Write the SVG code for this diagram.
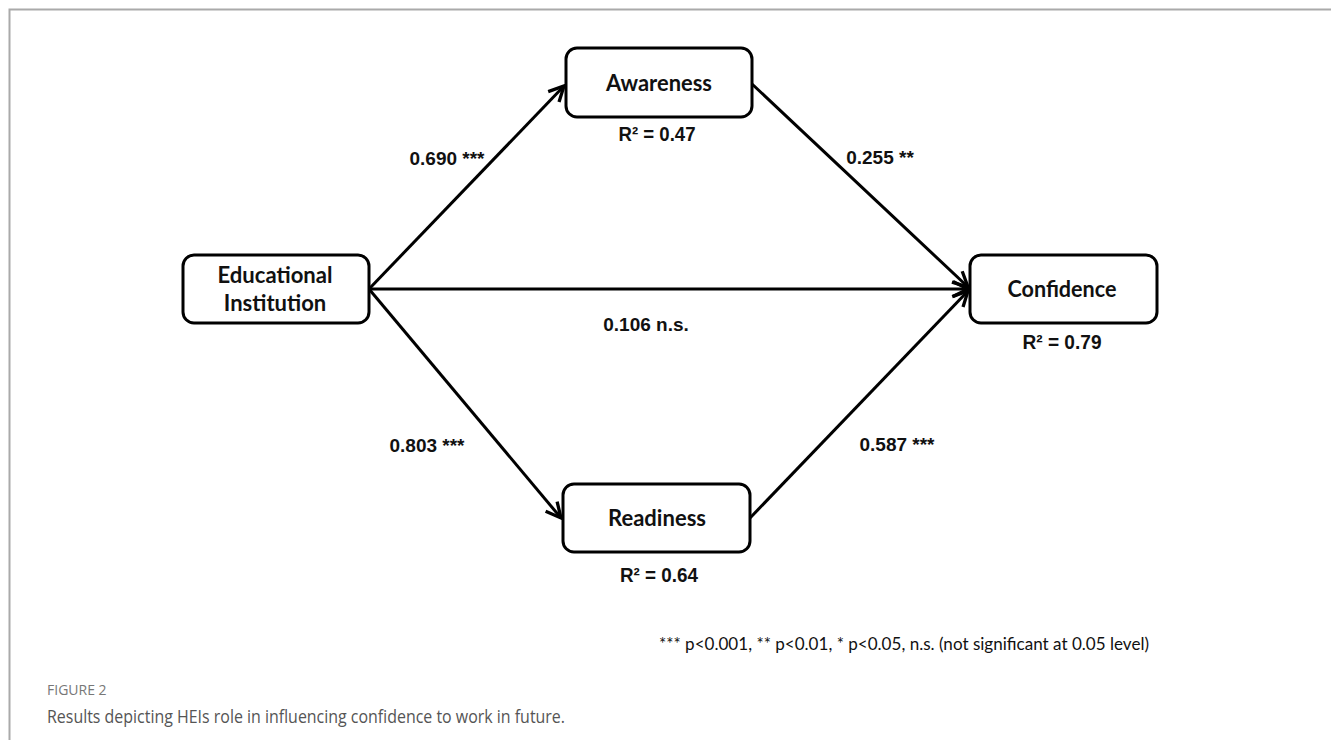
<svg xmlns="http://www.w3.org/2000/svg" width="1331" height="740" viewBox="0 0 1331 740">
<style>
.node{fill:#fff;stroke:#000;stroke-width:3}
.nt{font-family:Lato,"Open Sans",sans-serif;font-weight:bold;font-size:22px;fill:#111;text-anchor:middle}
.lb{font-family:"Liberation Sans",Arial,sans-serif;font-weight:bold;font-size:19px;fill:#111;text-anchor:middle}
.r2{font-family:"Liberation Sans",Arial,sans-serif;font-weight:bold;font-size:20px;fill:#111;text-anchor:middle}
.ed{stroke:#000;stroke-width:3;fill:none;marker-end:url(#ah)}
</style>
<defs>
<marker id="ah" viewBox="0 0 12 12" refX="11" refY="6" markerWidth="6" markerHeight="6" orient="auto" markerUnits="strokeWidth">
<path d="M1,1 L11,6 L1,11" fill="none" stroke="#000" stroke-width="2.2" stroke-linejoin="miter"/>
</marker>
</defs>
<rect width="1331" height="740" fill="#fff"/>
<path d="M9.5,740 V9.5 H1331" fill="none" stroke="#aaa" stroke-width="2"/>
<g id="connectors">
<line class="ed" x1="369" y1="289" x2="564" y2="86"/>
<line class="ed" x1="369" y1="289" x2="968" y2="289"/>
<line class="ed" x1="369" y1="289" x2="561" y2="518"/>
<line class="ed" x1="752" y1="84" x2="968" y2="287"/>
<line class="ed" x1="750" y1="518" x2="968" y2="291"/>
<text class="lb" x="447" y="165">0.690 ***</text>
<text class="lb" x="880" y="164">0.255 **</text>
<text class="lb" x="646" y="331">0.106 n.s.</text>
<text class="lb" x="427" y="452">0.803 ***</text>
<text class="lb" x="897" y="451">0.587 ***</text>
</g>
<g id="edu">
<rect class="node" x="183" y="255" width="186" height="68" rx="11"/>
<text class="nt" x="275" y="283" textLength="115" lengthAdjust="spacingAndGlyphs">Educational</text>
<text class="nt" x="275" y="311">Institution</text>
</g>
<g id="awareness">
<rect class="node" x="566" y="48" width="186" height="69" rx="11"/>
<text class="nt" x="659" y="91" textLength="106" lengthAdjust="spacingAndGlyphs">Awareness</text>
<text class="r2" x="657" y="141" textLength="77" lengthAdjust="spacingAndGlyphs">R² = 0.47</text>
</g>
<g id="confidence">
<rect class="node" x="970" y="255" width="187" height="68" rx="11"/>
<text class="nt" x="1062" y="297" textLength="109" lengthAdjust="spacingAndGlyphs">Confidence</text>
<text class="r2" x="1062" y="349" textLength="79" lengthAdjust="spacingAndGlyphs">R² = 0.79</text>
</g>
<g id="readiness">
<rect class="node" x="563" y="484" width="187" height="68" rx="11"/>
<text class="nt" x="657" y="526" textLength="98" lengthAdjust="spacingAndGlyphs">Readiness</text>
<text class="r2" x="659" y="582" textLength="78" lengthAdjust="spacingAndGlyphs">R² = 0.64</text>
</g>
<text x="659" y="650" font-family="Lato,'Open Sans',sans-serif" font-size="17" fill="#111" textLength="490" lengthAdjust="spacingAndGlyphs">*** p&lt;0.001, ** p&lt;0.01, * p&lt;0.05, n.s. (not significant at 0.05 level)</text>
<text x="47" y="695" font-family="'Open Sans',sans-serif" font-size="14" fill="#777">FIGURE 2</text>
<text x="47" y="723" font-family="'Open Sans',sans-serif" font-size="17.5" fill="#555" textLength="518" lengthAdjust="spacingAndGlyphs">Results depicting HEIs role in influencing confidence to work in future.</text>
</svg>
